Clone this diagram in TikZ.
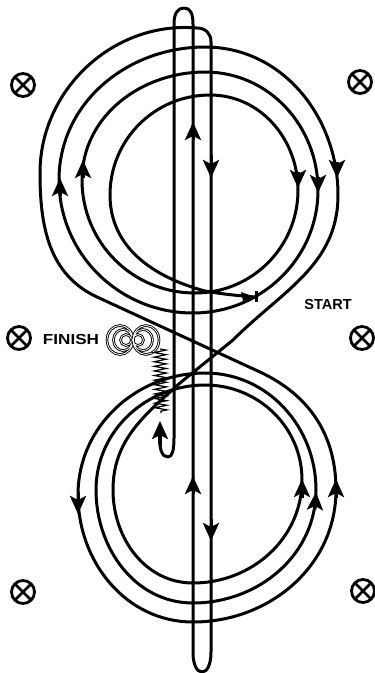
\documentclass[tikz,border=0pt]{standalone}
\usepackage{fontspec}
\setmainfont{Liberation Sans}
\usetikzlibrary{arrows.meta,decorations.pathmorphing}
\tikzset{
  track/.style={line width=3pt,line join=round},
  flow/.style={line width=3pt,-{Stealth[length=18pt,width=16pt,inset=4pt]}},
  screw/.style={circle,draw,line width=2.8pt,minimum size=23pt,inner sep=0pt,path picture={
    \draw[line width=2.6pt] (path picture bounding box.north west) -- (path picture bounding box.south east)
      (path picture bounding box.north east) -- (path picture bounding box.south west);}},
  ring/.style={line width=.9pt,double,double distance=.8pt},
  tag/.style={font=\bfseries\fontsize{14.5}{15}\selectfont,inner sep=0pt}
}
\begin{document}
\begin{tikzpicture}[x=1pt,y=-1pt]
  \useasboundingbox (0,0) rectangle (375,673);
  \draw[track] (255,297) to[out=175,in=-10] (205,291) to[out=165,in=270] (110,195)
    to[out=90,in=180] (210,95) to[out=0,in=90] (298,190) to[out=270,in=0] (195,293)
    to[out=180,in=270] (82,180) to[out=90,in=180] (205,72) to[out=0,in=90] (318,190) to[out=270,in=0] (193,313)
    to[out=180,in=270] (59,180) to[out=90,in=180] (205,47) to[out=0,in=90] (338,195) to[out=270,in=45] (233,340)
    -- (180,383) to[out=222,in=90] (113,490)
    to[out=270,in=180] (193,583) to[out=0,in=270] (302,480) to[out=90,in=0] (205,385)
    to[out=180,in=90] (96,490) to[out=270,in=180] (193,603) to[out=0,in=270] (316,490) to[out=90,in=0] (205,373)
    to[out=180,in=90] (78,495) to[out=270,in=180] (193,622) to[out=0,in=270] (336,490) to[out=90,in=-25] (260,372)
    -- (97,297) to[out=155,in=270] (40,173) to[out=90,in=175] (197,28)
    .. controls (206,28) and (211,34) .. (211,42) -- (211,652)
    .. controls (211,665) and (207,672) .. (202,672) .. controls (197,672) and (193,665) .. (193,652)
    -- (193,24) .. controls (193,13) and (190,8) .. (184,8) .. controls (178,8) and (174,13) .. (174,24)
    -- (174,438) .. controls (174,451) and (172,457) .. (168,457) .. controls (162,457) and (158,450) .. (160,425);
  \foreach \xa/\ya/\xb/\yb in {193/140/193/122, 211/155/211/178, 298/172/298/188, 318/177/318/193, 337/162/337/178,
    60/196/60/178, 83/178/83/160, 78/492/78/514, 302/498/302/479, 315/509/316/492, 336/498/336/479,
    193/494/193/476, 211/519/211/541, 160/446/160/421}
    \draw[flow] (\xa,\ya) -- (\xb,\yb);
  \fill (255,297) -- (241,292) -- (243,301) -- cycle;
  \draw[line width=3pt] (256,291) -- (256,302);
  \foreach \n/\x/\y in {a/23/85, b/360/82, c/19/338, d/362/338, e/23/592, f/363/591}
    \node[screw] (screw\n) at (\x,\y) {};
  \node[tag] (start) at (328,305) {START};
  \node[tag,xscale=1.18] (finish) at (71,340) {FINISH};
  \draw[ring] (120,340) ellipse (13pt and 14.5pt) (123,340) ellipse (9.5pt and 10.5pt) (126,340) circle (5.5pt);
  \draw[ring] (146,340) ellipse (13pt and 14.5pt) (143,340) ellipse (9.5pt and 10.5pt) (138,340) circle (5.5pt);
  \draw[line width=1.2pt,decorate,decoration={zigzag,segment length=4.6pt,amplitude=6pt}] (160,349) -- (161,413);
\end{tikzpicture}
\end{document}
